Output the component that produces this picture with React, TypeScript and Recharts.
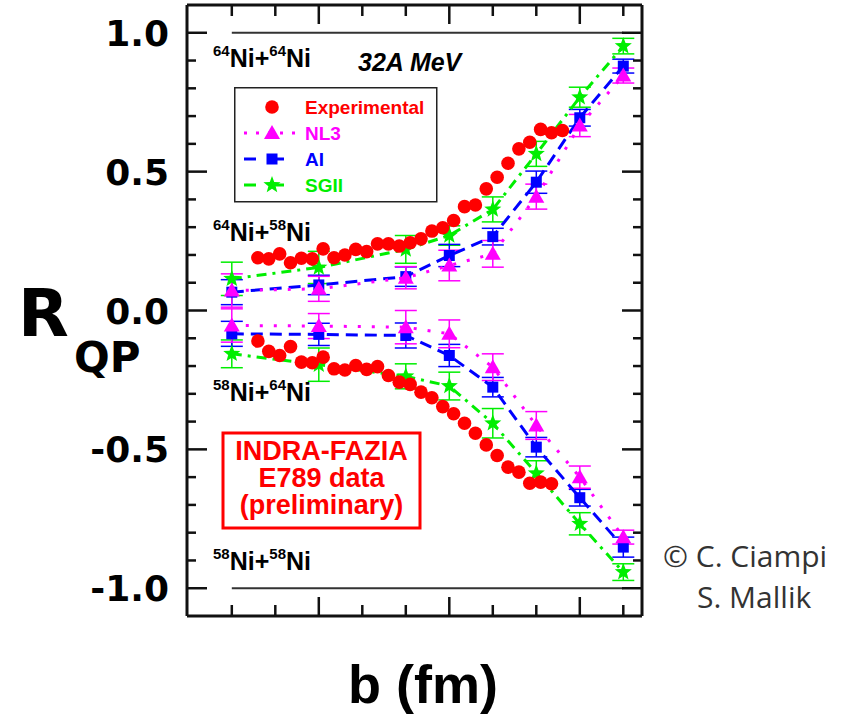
import { ScatterChart, Scatter, XAxis, YAxis, ErrorBar, ReferenceLine, Legend } from 'recharts';

// impact parameter (fm) where the transport models were computed
const modelB = [1, 3, 5, 6, 7, 8, 9, 10];

// 64Ni+58Ni branch
const nl3Upper = [0.072, 0.078, 0.118, 0.162, 0.204, 0.41, 0.666, 0.846];
const nl3UpperErr = [0.06, 0.045, 0.04, 0.055, 0.048, 0.045, 0.04, 0.027];
const aiUpper = [0.066, 0.092, 0.122, 0.198, 0.266, 0.462, 0.694, 0.88];
const aiUpperErr = [0.045, 0.035, 0.035, 0.04, 0.03, 0.04, 0.03, 0.025];
const sgiiUpper = [0.114, 0.155, 0.22, 0.27, 0.364, 0.564, 0.768, 0.952];
const sgiiUpperErr = [0.06, 0.058, 0.05, 0.035, 0.045, 0.045, 0.036, 0.028];

// 58Ni+64Ni branch
const nl3Lower = [-0.054, -0.056, -0.06, -0.084, -0.204, -0.414, -0.6, -0.816];
const nl3LowerErr = [0.06, 0.045, 0.06, 0.05, 0.048, 0.05, 0.04, 0.025];
const aiLower = [-0.084, -0.086, -0.09, -0.162, -0.276, -0.492, -0.674, -0.852];
const aiLowerErr = [0.045, 0.04, 0.045, 0.04, 0.035, 0.035, 0.03, 0.036];
const sgiiLower = [-0.156, -0.195, -0.237, -0.272, -0.406, -0.586, -0.768, -0.942];
const sgiiLowerErr = [0.05, 0.06, 0.045, 0.05, 0.053, 0.045, 0.04, 0.03];

// experimental points
const expUpperB = [1.6, 1.85, 2.1, 2.35, 2.6, 2.85, 3.1, 3.35, 3.6, 3.85, 4.1, 4.35, 4.6, 4.85, 5.1,
    5.35, 5.6, 5.85, 6.1, 6.35, 6.6, 6.85, 7.1, 7.35, 7.6, 7.85, 8.1, 8.35, 8.6];
const expUpper = [0.19, 0.186, 0.204, 0.172, 0.188, 0.186, 0.222, 0.19, 0.2, 0.22, 0.212, 0.24, 0.24, 0.232, 0.244,
    0.258, 0.286, 0.298, 0.324, 0.374, 0.38, 0.438, 0.48, 0.53, 0.582, 0.606, 0.652, 0.64, 0.648];
const expLowerB = [1.6, 1.85, 2.1, 2.35, 2.6, 2.85, 3.1, 3.35, 3.6, 3.85, 4.1, 4.35, 4.6, 4.85, 5.1,
    5.35, 5.6, 5.85, 6.1, 6.35, 6.6, 6.85, 7.1, 7.35, 7.6, 7.85, 8.1, 8.35];
const expLower = [-0.11, -0.147, -0.162, -0.13, -0.186, -0.188, -0.168, -0.21, -0.214, -0.198, -0.212, -0.202, -0.234, -0.258,
    -0.266, -0.294, -0.314, -0.346, -0.372, -0.406, -0.442, -0.484, -0.522, -0.564, -0.582, -0.622, -0.618, -0.624];

const xTicks = [1, 2, 3, 4, 5, 6, 7, 8, 9, 10];
const xMajor = [3, 6, 9];
const yTicks = [-1, -0.9, -0.8, -0.7, -0.6, -0.5, -0.4, -0.3, -0.2, -0.1, 0, 0.1, 0.2, 0.3, 0.4, 0.5, 0.6, 0.7, 0.8, 0.9, 1];
const yLabels: Record<string, string> = { '1': '1.0', '0.5': '0.5', '0': '0.0', '-0.5': '-0.5', '-1': '-1.0' };

const RED = '#ff0000';
const MAGENTA = '#ff00ff';
const BLUE = '#0000ff';
const GREEN = '#00ee00';
const AXIS = '#111';
const SANS = '"Liberation Sans", Arial, sans-serif';
const WIDE = '"DejaVu Sans", sans-serif';

const pts = (bs: number[], rs: number[], es?: number[]) =>
    bs.map((b, i) => ({ b, r: rs[i], err: es ? es[i] : 0 }));

const Dot = ({ cx, cy, fill = RED }: any) => <circle cx={cx} cy={cy} r={6.8} fill={fill} />;
const Tri = ({ cx, cy, fill = MAGENTA }: any) => (
    <polygon points={`${cx},${cy - 8} ${cx - 8},${cy + 6} ${cx + 8},${cy + 6}`} fill={fill} />
);
const Sq = ({ cx, cy, fill = BLUE }: any) => <rect x={cx - 5.5} y={cy - 5.5} width={11} height={11} fill={fill} />;
const Star = ({ cx, cy, fill = GREEN }: any) => {
    const p: string[] = [];
    for (let k = 0; k < 10; k++) {
        const rad = k % 2 === 0 ? 9 : 3.8;
        const a = -Math.PI / 2 + (k * Math.PI) / 5;
        p.push(`${cx + rad * Math.cos(a)},${cy + rad * Math.sin(a)}`);
    }
    return <polygon points={p.join(' ')} fill={fill} />;
};

const models = [
    { name: 'SGII', color: GREEN, dash: '10 6 3 6', Shape: Star, up: sgiiUpper, upErr: sgiiUpperErr, lo: sgiiLower, loErr: sgiiLowerErr },
    { name: 'AI', color: BLUE, dash: '12 7', Shape: Sq, up: aiUpper, upErr: aiUpperErr, lo: aiLower, loErr: aiLowerErr },
    { name: 'NL3', color: MAGENTA, dash: '3 11', Shape: Tri, up: nl3Upper, upErr: nl3UpperErr, lo: nl3Lower, loErr: nl3LowerErr },
];

const legendRows = [
    { name: 'Experimental', color: RED, Shape: Dot, dash: null },
    { name: 'NL3', color: MAGENTA, Shape: Tri, dash: '3 9' },
    { name: 'AI', color: BLUE, Shape: Sq, dash: '12 16' },
    { name: 'SGII', color: GREEN, Shape: Star, dash: '12 16' },
];

const LegendBox = () => (
    <svg width={204} height={116}>
        <rect x={0.75} y={0.75} width={202} height={114} fill="#fff" stroke="#222" strokeWidth={1.5} />
        {legendRows.map((row, i) => {
            const y = 20 + i * 26;
            return (
                <g key={row.name}>
                    {row.dash && (
                        <line x1={10} x2={66} y1={y} y2={y} stroke={row.color} strokeWidth={3} strokeDasharray={row.dash} />
                    )}
                    <row.Shape cx={38} cy={y} fill={row.color} />
                    <text x={71} y={y + 7} fill={row.color} fontFamily={SANS} fontWeight="bold" fontSize={19}>{row.name}</text>
                </g>
            );
        })}
    </svg>
);

const YTick = (side: 'left' | 'right') => (props: any) => {
    const { x, y, payload } = props;
    const v = payload.value;
    const major = Math.abs(v * 2 - Math.round(v * 2)) < 1e-6;
    const len = major ? 20 : 9;
    const dir = side === 'left' ? 1 : -1;
    return (
        <g>
            <line x1={x} x2={x + dir * len} y1={y} y2={y} stroke={AXIS} strokeWidth={2.5} />
            {side === 'left' && major && (
                <text x={x - 18} y={y + 13} textAnchor="end" fontFamily={WIDE} fontWeight="bold" fontSize={36} fill="#000">
                    {yLabels[String(v)]}
                </text>
            )}
        </g>
    );
};

const XTick = (side: 'top' | 'bottom') => (props: any) => {
    const { x, y, payload } = props;
    const len = xMajor.includes(payload.value) ? 19 : 11;
    const dir = side === 'bottom' ? -1 : 1;
    return <line x1={x} x2={x} y1={y} y2={y + dir * len} stroke={AXIS} strokeWidth={2.5} />;
};

const Iso = ({ x, y, a, b }: { x: number; y: number; a: string; b: string }) => (
    <text x={x} y={y} fontFamily={SANS} fontWeight="bold" fill="#000">
        <tspan fontSize={15} dy={-11}>{a}</tspan>
        <tspan fontSize={25} dy={11}>Ni+</tspan>
        <tspan fontSize={15} dy={-11}>{b}</tspan>
        <tspan fontSize={25} dy={11}>Ni</tspan>
    </text>
);

export default function App() {
    return (
        <div style={{ position: 'absolute', left: 0, top: 0, width: 849, height: 718, background: '#fff' }}>
            <ScatterChart width={849} height={718} margin={{ top: 4, right: 206, bottom: 101, left: 186 }}>
                <XAxis xAxisId="b" type="number" dataKey="b" domain={[-0.03, 10.43]} ticks={xTicks} interval={0}
                    allowDataOverflow orientation="bottom" height={1} tickSize={0} tickMargin={0} tickLine={false}
                    axisLine={{ stroke: AXIS, strokeWidth: 3 }} tick={XTick('bottom')} />
                <XAxis xAxisId="t" type="number" dataKey="b" domain={[-0.03, 10.43]} ticks={xTicks} interval={0}
                    allowDataOverflow orientation="top" height={1} tickSize={0} tickMargin={0} tickLine={false}
                    axisLine={{ stroke: AXIS, strokeWidth: 3 }} tick={XTick('top')} />
                <YAxis yAxisId="l" type="number" dataKey="r" domain={[-1.1, 1.1]} ticks={yTicks} interval={0}
                    allowDataOverflow orientation="left" width={1} tickSize={0} tickMargin={0} tickLine={false}
                    axisLine={{ stroke: AXIS, strokeWidth: 3 }} tick={YTick('left')} />
                <YAxis yAxisId="r" type="number" dataKey="r" domain={[-1.1, 1.1]} ticks={yTicks} interval={0}
                    allowDataOverflow orientation="right" width={1} tickSize={0} tickMargin={0} tickLine={false}
                    axisLine={{ stroke: AXIS, strokeWidth: 3 }} tick={YTick('right')} />

                {/* symmetric systems: R = +1 and R = -1 */}
                <ReferenceLine xAxisId="b" yAxisId="l" segment={[{ x: 1, y: 1 }, { x: 10, y: 1 }]} stroke="#333" strokeWidth={2} />
                <ReferenceLine xAxisId="b" yAxisId="l" segment={[{ x: 1, y: -1 }, { x: 10, y: -1 }]} stroke="#333" strokeWidth={2} />

                {models.flatMap((m) => [
                    [pts(modelB, m.up, m.upErr), 'up'],
                    [pts(modelB, m.lo, m.loErr), 'lo'],
                ].map(([data, key]: any) => (
                    <Scatter key={m.name + key} name={m.name} xAxisId="b" yAxisId="l" data={data} dataKey="r"
                        isAnimationActive={false} legendType="none"
                        line={{ stroke: m.color, strokeWidth: 3, strokeDasharray: m.dash }}
                        shape={(p: any) => <m.Shape cx={p.cx} cy={p.cy} fill={m.color} />}>
                        <ErrorBar dataKey="err" direction="y" width={11} stroke={m.color} strokeWidth={1.5} isAnimationActive={false} />
                    </Scatter>
                )))}

                <Scatter name="Experimental" xAxisId="b" yAxisId="l" data={pts(expUpperB, expUpper)} dataKey="r"
                    isAnimationActive={false} shape={(p: any) => <Dot cx={p.cx} cy={p.cy} />} />
                <Scatter name="Experimental" xAxisId="b" yAxisId="l" data={pts(expLowerB, expLower)} dataKey="r"
                    isAnimationActive={false} legendType="none" shape={(p: any) => <Dot cx={p.cx} cy={p.cy} />} />

                <Legend layout="vertical" align="center" verticalAlign="middle" content={() => <LegendBox />}
                    wrapperStyle={{ left: 234, top: 87, width: 204, height: 116 }} />
            </ScatterChart>

            <svg width={849} height={718} style={{ position: 'absolute', left: 0, top: 0, pointerEvents: 'none' }}>
                <Iso x={213} y={67} a="64" b="64" />
                <Iso x={213} y={241} a="64" b="58" />
                <Iso x={213} y={401} a="58" b="64" />
                <Iso x={213} y={570} a="58" b="58" />
                <text x={358} y={71} fontFamily={SANS} fontWeight="bold" fontStyle="italic" fontSize={25} fill="#000">32A MeV</text>

                <rect x={223} y={433} width={197} height={95} fill="none" stroke={RED} strokeWidth={3} />
                <text x={321.5} y={460} fontFamily={SANS} fontWeight="bold" fontSize={27} fill={RED} textAnchor="middle">
                    <tspan x={321.5}>INDRA-FAZIA</tspan>
                    <tspan x={321.5} dy={27}>E789 data</tspan>
                    <tspan x={321.5} dy={27}>(preliminary)</tspan>
                </text>

                <text x={18} y={336} fontFamily={WIDE} fontWeight="bold" fontSize={66} fill="#000">R</text>
                <text x={74} y={372} fontFamily={WIDE} fontWeight="bold" fontSize={42} fill="#000">QP</text>
                <text x={423} y={703} textAnchor="middle" fontFamily={SANS} fontWeight="bold" fontSize={54} fill="#000">b (fm)</text>

                <g fontFamily='"Open Sans", sans-serif' fontSize={30} fill="#333">
                    <text x={663} y={567}>© C. Ciampi</text>
                    <text x={697} y={608}>S. Mallik</text>
                </g>
            </svg>
        </div>
    );
}
